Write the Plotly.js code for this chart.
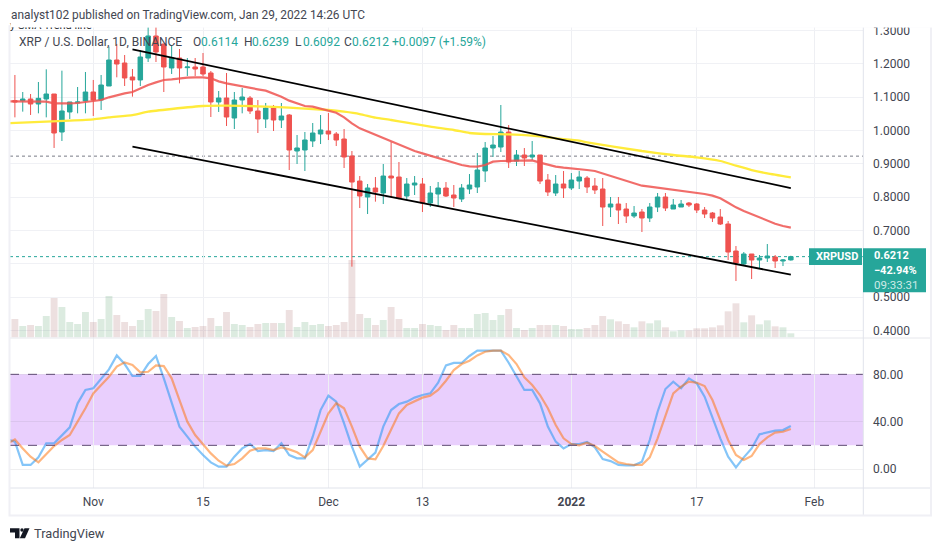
<!DOCTYPE html>
<html>
<head>
<meta charset="utf-8">
<script src="https://cdn.plot.ly/plotly-3.0.1.min.js"></script>
<style>html,body{margin:0;padding:0;background:#fff}#chart{width:941px;height:551px}</style>
</head>
<body>
<div id="chart"></div>
<script>
const firstDay = Date.UTC(2021, 9, 22);
const openPrices = [1.0896,1.0896,1.0946,1.0796,1.0946,1.1096,0.9955,1.0556,1.0826,1.0886,1.1156,1.0916,1.1336,1.2117,1.2027,1.1607,1.1517,1.2177,1.2838,1.2598,1.1877,1.2177,1.1887,1.1907,1.1907,1.1727,1.0856,1.0976,1.0375,1.0916,1.0976,1.0586,1.0345,1.0676,1.0315,1.0465,0.9384,0.9414,0.9685,0.9895,0.9985,0.9895,0.9744,0.9234,0.8483,0.8003,0.8273,0.8123,0.8633,0.8603,0.8033,0.8363,0.8393,0.7823,0.8093,0.8273,0.8063,0.7943,0.8243,0.8303,0.8784,0.9474,0.9504,0.9955,0.9084,0.9264,0.9204,0.9264,0.8513,0.8123,0.8393,0.8273,0.8483,0.8573,0.8333,0.8243,0.7702,0.7792,0.7642,0.7432,0.7552,0.7372,0.7702,0.8003,0.7642,0.7702,0.7822,0.7792,0.7612,0.7522,0.7402,0.7192,0.6381,0.5991,0.6291,0.6111,0.6171,0.6201,0.6081,0.6114];
const highPrices = [1.1667,1.1156,1.1096,1.1456,1.1837,1.1096,1.1797,1.0856,1.1306,1.1757,1.1517,1.1667,1.2518,1.2598,1.2267,1.1847,1.2417,1.3118,1.3118,1.2598,1.2568,1.2447,1.2177,1.2177,1.2327,1.1787,1.1186,1.1727,1.1156,1.1276,1.1036,1.0916,1.0826,1.0766,1.0826,1.0495,0.9865,0.9955,1.0225,1.0465,1.0525,0.9955,1.0045,0.9384,0.8633,0.8393,0.8603,0.8994,0.9654,0.9054,0.8573,0.8633,0.8573,0.8333,0.8453,0.8453,0.8363,0.8393,0.8693,0.9324,0.9654,0.9835,1.0766,1.0165,0.9414,0.9474,0.9684,0.9264,0.8693,0.8663,0.8783,0.8723,0.8783,0.8633,0.8573,0.8573,0.8003,0.8003,0.7822,0.7732,0.7642,0.7822,0.8123,0.8123,0.7943,0.7913,0.7852,0.7822,0.7702,0.7552,0.7642,0.7282,0.6531,0.6351,0.6291,0.6261,0.6591,0.6261,0.6141,0.6239];
const lowPrices = [1.0395,1.0566,1.0466,1.0516,1.0395,0.9475,0.9685,1.0345,1.0516,1.0516,1.0436,1.0616,1.1336,1.1597,1.1336,1.1016,1.1336,1.2057,1.2057,1.1156,1.1697,1.1416,1.1637,1.1637,1.1637,1.0405,1.0556,1.0135,1.0045,1.0516,1.0496,0.9925,1.0075,0.9985,1.0075,0.8814,0.8994,0.8784,0.9504,0.9594,0.9714,0.9534,0.8874,0.5911,0.7672,0.7492,0.7863,0.7792,0.7993,0.7933,0.7913,0.8063,0.7552,0.7703,0.7733,0.8003,0.7703,0.7853,0.8093,0.8123,0.8453,0.9204,0.9354,0.8874,0.8934,0.8934,0.9114,0.8393,0.8033,0.8033,0.7973,0.8213,0.8243,0.8123,0.8093,0.7132,0.7402,0.7192,0.7222,0.7372,0.6952,0.7252,0.7552,0.7582,0.7642,0.7702,0.7702,0.7522,0.7372,0.7252,0.7162,0.6111,0.5480,0.5931,0.5540,0.5841,0.6051,0.5870,0.5930,0.6092];
const closePrices = [1.0856,1.0946,1.0796,1.0966,1.1096,0.9925,1.0586,1.0856,1.0856,1.1156,1.0916,1.1366,1.2117,1.1997,1.1577,1.1517,1.2207,1.2838,1.2357,1.1907,1.2177,1.1877,1.1907,1.1847,1.1697,1.0856,1.0976,1.0405,1.0916,1.1006,1.0586,1.0345,1.0676,1.0315,1.0435,0.9414,0.9475,0.9715,0.9925,1.0015,0.9895,0.9714,0.9204,0.8453,0.8033,0.8273,0.8153,0.8633,0.8573,0.7973,0.8393,0.8423,0.7823,0.8123,0.8273,0.8033,0.7973,0.8273,0.8363,0.8814,0.9474,0.9564,0.9955,0.9054,0.9264,0.9174,0.9264,0.8483,0.8153,0.8393,0.8273,0.8513,0.8603,0.8303,0.8213,0.7702,0.7792,0.7612,0.7432,0.7522,0.7372,0.7702,0.8003,0.7672,0.7762,0.7792,0.7762,0.7612,0.7492,0.7372,0.7192,0.6351,0.6021,0.6291,0.6111,0.6171,0.6231,0.6081,0.6111,0.6212];
const volumes = [55,34,37,34,64,118,91,46,40,76,46,55,124,67,46,34,52,85,79,130,61,49,28,31,34,58,34,76,40,37,31,40,43,43,43,82,31,46,37,40,34,37,46,232,70,58,37,52,91,55,28,28,40,37,34,22,37,28,28,70,73,52,67,85,28,22,28,37,37,37,34,25,25,28,37,64,54,48,40,30,48,42,51,30,18,21,21,27,27,30,36,78,102,45,66,39,51,33,30,12];
// indicators start one day earlier (2021-10-21)
const ma20 = [1.0876,1.0876,1.0876,1.0876,1.0876,1.0866,1.0816,1.0806,1.0816,1.0826,1.0856,1.0866,1.0916,1.0996,1.1066,1.1116,1.1156,1.1266,1.1366,1.1446,1.1517,1.1537,1.1567,1.1587,1.1597,1.1597,1.1567,1.1476,1.1416,1.1366,1.1316,1.1266,1.1236,1.1196,1.1116,1.1016,1.0896,1.0806,1.0736,1.0716,1.0655,1.0615,1.0535,1.0395,1.0215,1.0065,0.9965,0.9865,0.9785,0.9664,0.9564,0.9484,0.9384,0.9314,0.9244,0.9184,0.9114,0.9044,0.8964,0.8924,0.8914,0.8964,0.9064,0.9084,0.9084,0.9084,0.9094,0.9104,0.9034,0.8964,0.8914,0.8884,0.8864,0.8854,0.8814,0.8783,0.8713,0.8643,0.8563,0.8493,0.8413,0.8343,0.8313,0.8283,0.8253,0.8223,0.8193,0.8173,0.8133,0.8093,0.8043,0.7963,0.7832,0.7692,0.7582,0.7482,0.7382,0.7282,0.7202,0.7132,0.7082];
const ma50Dates = ['2021-10-21','2021-10-26','2021-10-29','2021-11-01','2021-11-03','2021-11-06','2021-11-08','2021-11-11','2021-11-15','2021-11-18','2021-11-22','2021-11-26','2021-11-29','2021-12-01','2021-12-03','2021-12-05','2021-12-07','2021-12-09','2021-12-11','2021-12-14','2021-12-17','2021-12-19','2021-12-21','2021-12-24','2021-12-27','2021-12-30','2022-01-02','2022-01-03','2022-01-10','2022-01-14','2022-01-17','2022-01-20','2022-01-22','2022-01-24','2022-01-26','2022-01-29'];
const ma50 = [1.0215,1.0265,1.0295,1.0335,1.0395,1.0465,1.0565,1.0646,1.0736,1.0746,1.0726,1.0686,1.0646,1.0615,1.0565,1.0495,1.0385,1.0315,1.0235,1.0115,1.0015,0.9925,0.9895,0.9885,0.9845,0.9765,0.9695,0.9645,0.9384,0.9264,0.9194,0.9084,0.8944,0.8813,0.8713,0.8593];
const stochK = [25.0,23.1,3.4,3.4,9.8,21.7,21.7,28.7,35.2,55.5,66.8,68.2,76.6,84.2,96.0,88.7,78.6,78.6,88.7,95.5,76.6,56.9,35.8,27.3,18.9,11.8,5.6,2.0,2.0,10.4,17.4,21.1,15.2,16.0,15.2,21.7,11.8,9.0,9.0,27.3,49.8,62.0,56.9,38.6,18.9,2.0,8.2,13.8,35.8,49.8,54.9,56.9,60.3,62.5,63.9,72.9,87.6,89.6,89.6,95.5,100,100,100,100,89.8,78.6,66.8,66.8,55.5,35.8,23.1,17.4,21.1,21.1,22.8,18.3,8.4,6.7,3.4,3.1,3.1,6.2,24.5,48.4,67.6,73.8,68.2,76.6,72.4,61.1,42.8,25.9,10.4,1.4,9.8,17.4,29.3,30.7,32.4,32.9,36.3];
const stochD = [21.1,25.0,17.4,10.4,5.6,12.4,19.4,24.5,28.7,40.0,51.3,63.9,71.0,78.0,86.5,90.1,87.9,81.7,82.2,87.6,87.0,76.6,58.3,40.0,28.7,21.1,13.2,7.0,2.8,4.2,9.0,15.5,17.4,17.4,16.0,18.3,16.6,14.1,9.8,16.0,31.5,47.0,55.5,51.3,35.8,18.9,9.0,8.2,19.4,32.9,47.0,54.1,57.4,60.3,62.0,66.8,74.6,83.6,88.7,91.5,96.0,99.1,100,100,96.3,88.7,77.4,71.0,62.5,51.3,37.2,25.9,21.1,20.0,22.2,19.4,14.6,9.8,5.6,4.2,3.4,3.4,9.8,25.9,45.6,63.9,69.6,73.8,72.9,70.1,58.3,41.4,24.5,11.8,7.6,11.0,21.1,26.7,30.7,31.5,33.8];
const upperChannelDates = ['2021-11-06','2022-01-29'];
const upperChannel = [1.2437,0.8273];
const lowerChannelDates = ['2021-11-06','2022-01-29'];
const lowerChannel = [0.9515,0.5670];
const lastPrice = 0.6212;
const prevClose = 0.923;
const priceTicks = [0.4,0.5,0.6,0.7,0.8,0.9,1.0,1.1,1.2,1.3];
const stochTicks = [0,40,80];
const stochBand = [20,80];
const dateTicks = ['2021-11-01','2021-11-15','2021-12-01','2021-12-13','2022-01-01','2022-01-17','2022-02-01'];
const dateLabels = ['Nov','15','Dec','13','<b>2022</b>','17','Feb'];
const legendTitle = 'XRP / U.S. Dollar, 1D, BINANCE';
const ohlcLetters = ['O','H','L','C'];
const ohlcValues = ['0.6114','0.6239','0.6092','0.6212'];
const changeText = '+0.0097 (+1.59%)';

const UP='#26a69a', DOWN='#ef5350', FONT='Roboto, sans-serif', TXT='#434651';
const dayStr = (off,i)=>new Date(firstDay+(i+off)*864e5).toISOString().slice(0,10);
const dates = openPrices.map((_,i)=>dayStr(0,i));
const indDates = ma20.map((_,i)=>dayStr(-1,i));
const L=10,R=863,T=27,B=488;
const px=x=>(x-L)/(R-L), py=y=>(B-y)/(B-T);

const traces=[
 {type:'bar',x:dates,y:volumes,xaxis:'x',yaxis:'y',hoverinfo:'skip',
  marker:{color:volumes.map((_,i)=>closePrices[i]>=openPrices[i]?'rgba(80,155,100,.2)':'rgba(165,100,100,.2)'),line:{width:0}}},
 {type:'scatter',mode:'lines',x:ma50Dates,y:ma50,xaxis:'x',yaxis:'y2',line:{color:'#ffeb3b',width:2.3,shape:'spline',smoothing:0.5}},
 {type:'scatter',mode:'lines',x:indDates,y:ma20,xaxis:'x',yaxis:'y2',line:{color:'rgba(239,83,80,.85)',width:2.2}},
 {type:'candlestick',x:dates,open:openPrices,high:highPrices,low:lowPrices,close:closePrices,xaxis:'x',yaxis:'y2',whiskerwidth:0,
  increasing:{line:{color:UP,width:1},fillcolor:UP},decreasing:{line:{color:DOWN,width:1},fillcolor:DOWN}},
 {type:'scatter',mode:'lines',x:upperChannelDates,y:upperChannel,xaxis:'x',yaxis:'y2',line:{color:'#000',width:1.8}},
 {type:'scatter',mode:'lines',x:lowerChannelDates,y:lowerChannel,xaxis:'x',yaxis:'y2',line:{color:'#000',width:1.8}},
 {type:'scatter',mode:'lines',x:indDates,y:stochK,xaxis:'x',yaxis:'y3',line:{color:'rgba(33,150,243,.55)',width:2.2}},
 {type:'scatter',mode:'lines',x:indDates,y:stochD,xaxis:'x',yaxis:'y3',line:{color:'rgba(255,109,0,.5)',width:2.2}}
];

const gridC='#f0f1f5';
const shapes=[
 {type:'rect',xref:'paper',yref:'y3',x0:0,x1:1,y0:stochBand[0],y1:stochBand[1],fillcolor:'#e9cffd',line:{width:0},layer:'below'},
 ...stochBand.map(v=>({type:'line',xref:'paper',yref:'y3',x0:0,x1:1,y0:v,y1:v,line:{color:'#5e4b73',width:1,dash:'dash'},layer:'above'})),
 {type:'line',xref:'paper',yref:'y2',x0:0,x1:1,y0:prevClose,y1:prevClose,line:{color:'#787b86',width:1,dash:'dot'},layer:'below'},
 {type:'line',xref:'paper',yref:'y2',x0:0,x1:1,y0:lastPrice,y1:lastPrice,line:{color:UP,width:1,dash:'dot'},layer:'below'},
 // frame
 {type:'line',xref:'paper',yref:'paper',x0:px(L),x1:px(931),y0:py(338),y1:py(338),line:{color:'#e6e7ec',width:1},layer:'above'},
 {type:'line',xref:'paper',yref:'paper',x0:px(L),x1:px(931),y0:py(488),y1:py(488),line:{color:'#e0e3eb',width:1},layer:'above'},
 {type:'line',xref:'paper',yref:'paper',x0:px(863.3),x1:px(863.3),y0:py(26),y1:py(515),line:{color:'#e0e3eb',width:1},layer:'above'},
 {type:'rect',xref:'paper',yref:'paper',x0:px(9.5),x1:px(931),y0:py(26.3),y1:py(515.5),line:{color:'#f0f0f5',width:2},fillcolor:'rgba(0,0,0,0)',layer:'above'},
 // price labels
 {type:'rect',xref:'paper',yref:'paper',x0:px(809),x1:px(862),y0:py(248.3),y1:py(265),fillcolor:UP,line:{width:0},layer:'above'},
 {type:'rect',xref:'paper',yref:'paper',x0:px(863),x1:px(926),y0:py(248.3),y1:py(292.3),fillcolor:UP,line:{width:0},layer:'above'},
 // logo
 {type:'path',xref:'paper',yref:'paper',fillcolor:'#131722',line:{width:0},layer:'above',
  path:`M${px(10)},${py(528.3)} L${px(19.5)},${py(528.3)} L${px(19.5)},${py(538.3)} L${px(15)},${py(538.3)} L${px(15)},${py(532.5)} L${px(10)},${py(532.5)} Z`},
 {type:'circle',xref:'paper',yref:'paper',x0:px(20.3),x1:px(23.7),y0:py(528.3),y1:py(531.7),fillcolor:'#131722',line:{width:0},layer:'above'},
 {type:'path',xref:'paper',yref:'paper',fillcolor:'#131722',line:{width:0},layer:'above',
  path:`M${px(24.5)},${py(528.3)} L${px(29.5)},${py(528.3)} L${px(25)},${py(538.3)} L${px(19.8)},${py(538.3)} Z`}
];

const note=(x,y,text,color,size,extra)=>Object.assign({xref:'paper',yref:'paper',x:px(x-1),y:py(y),xanchor:'left',yanchor:'middle',showarrow:false,text,font:{family:FONT,size:size||12,color:color||TXT}},extra||{});
const letterX=[191.7,243,294,343], valueX=[199.5,251,301.5,351];
const annotations=[
 note(9,25.5,'y SMA Trend line','#131722',11),
 {xref:'paper',yref:'paper',x:0,y:py(0),xanchor:'left',yanchor:'top',showarrow:false,text:' ',bgcolor:'#fff',width:941,height:25.5,borderpad:0,font:{size:10}},
 note(10,15,'analyst102 published on TradingView.com, Jan 29, 2022 14:26 UTC','#434651',11.9),
 note(18,41.5,legendTitle,TXT,12),
 ...ohlcLetters.map((t,i)=>note(letterX[i],41.5,t,TXT,12)),
 ...ohlcValues.map((t,i)=>note(valueX[i],41.5,t,UP,12)),
 note(390.5,41.5,changeText,UP,12),
 note(815,256.6,'<b>XRPUSD</b>','#fff',11),
 note(873,256,'<b>0.6212</b>','#fff',11),
 note(873,270.4,'<b>−42.94%</b>','#fff',11),
 note(873,284.8,'09:33:31','#cdeae6',11.5),
 note(33,533.5,'TradingView','#434651',12.8)
];

const layout={
 width:941,height:551,paper_bgcolor:'#fff',plot_bgcolor:'#fff',showlegend:false,dragmode:false,
 margin:{l:L,r:941-R,t:T,b:551-B,pad:0},
 bargap:0.12,boxgap:0.18,
 xaxis:{type:'date',range:['2021-10-21 09:00','2022-02-07 05:00'],anchor:'y3',rangeslider:{visible:false},
  tickmode:'array',tickvals:dateTicks,ticktext:dateLabels,tickangle:0,showgrid:true,gridcolor:'#eeeff3',gridwidth:1,zeroline:false,showline:false,ticks:'',
  ticklabelstandoff:5,tickfont:{family:FONT,size:12,color:TXT}},
 yaxis:{domain:[(B-338)/(B-T),1],range:[-2,931],visible:false,showgrid:false,zeroline:false,fixedrange:true},
 yaxis2:{domain:[(B-338)/(B-T),1],overlaying:'y',side:'right',anchor:'x',range:[0.3769,1.3108],tickmode:'array',tickvals:priceTicks,tickformat:'.4f',
  showgrid:true,gridcolor:gridC,gridwidth:1,zeroline:false,showline:false,ticks:'',ticklabelstandoff:9,tickfont:{family:FONT,size:12,color:TXT}},
 yaxis3:{domain:[0,(B-338)/(B-T)],side:'right',anchor:'x',range:[-16.06,110.7],tickmode:'array',tickvals:stochTicks,tickformat:'.2f',
  showgrid:true,gridcolor:'rgba(120,123,134,.12)',gridwidth:1,zeroline:false,showline:false,ticks:'',ticklabelstandoff:9,tickfont:{family:FONT,size:12,color:TXT}},
 shapes,annotations
};
Plotly.newPlot('chart',traces,layout,{displayModeBar:false,staticPlot:true});
</script>
</body>
</html>
